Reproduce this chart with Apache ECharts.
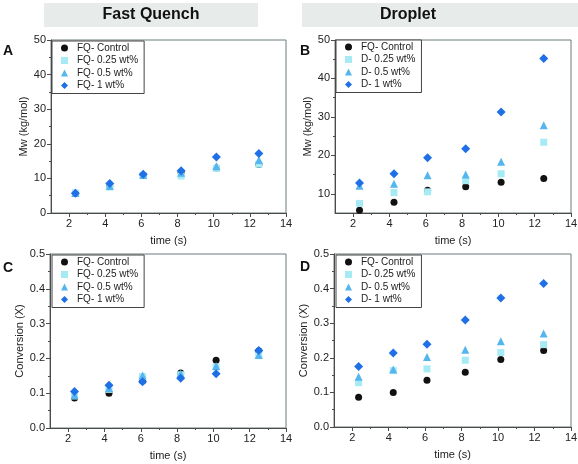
<!DOCTYPE html>
<html><head><meta charset="utf-8">
<script src="https://cdn.jsdelivr.net/npm/echarts@6/dist/echarts.min.js"></script>
<style>html,body{margin:0;padding:0;background:#fff}#c{width:578px;height:464px}</style>
</head><body><div id="c"></div>
<script>
// ---- data ----
var times = [2.35, 4.25, 6.1, 8.2, 10.15, 12.5];
var panelTitles = ['Fast Quench', 'Droplet'];
var panelLetters = ['A', 'B', 'C', 'D'];
var fqNames = ['FQ- Control', 'FQ- 0.25 wt%', 'FQ- 0.5 wt%', 'FQ- 1 wt%'];
var dNames = ['FQ- Control', 'D- 0.25 wt%', 'D- 0.5 wt%', 'D- 1 wt%'];
// Mw (kg/mol)
var mwControl = [5.7, 7.8, 10.9, 11.8, 13.0, 14.0];
var mwFQ025 = [5.8, 7.5, 10.8, 10.7, 12.9, 14.1];
var mwFQ05 = [5.8, 7.8, 11.0, 11.6, 13.5, 15.3];
var mwFQ1 = [5.7, 8.5, 11.2, 12.2, 16.2, 17.2];
var mwD025 = [7.5, 10.3, 10.5, 13.4, 15.2, 23.4];
var mwD05 = [12.1, 12.6, 14.8, 15.0, 18.3, 27.8];
var mwD1 = [12.8, 15.2, 19.4, 21.7, 31.3, 45.2];
// Conversion (X)
var cvControl = [0.086, 0.100, 0.135, 0.158, 0.195, 0.221];
var cvFQ025 = [0.092, 0.111, 0.148, 0.153, 0.175, 0.208];
var cvFQ05 = [0.095, 0.115, 0.151, 0.156, 0.178, 0.210];
var cvFQ1 = [0.105, 0.123, 0.133, 0.143, 0.156, 0.223];
var cvD025 = [0.128, 0.163, 0.168, 0.193, 0.215, 0.238];
var cvD05 = [0.145, 0.166, 0.202, 0.223, 0.248, 0.270];
var cvD1 = [0.175, 0.214, 0.239, 0.309, 0.373, 0.415];
// ticks
var xMajor = [2, 4, 6, 8, 10, 12, 14];
var xMinor = [3, 5, 7, 9, 11, 13];
var mwMajorA = [0, 10, 20, 30, 40, 50];
var mwMinorA = [5, 15, 25, 35, 45];
var mwMajorB = [10, 20, 30, 40, 50];
var mwMinorB = [15, 25, 35, 45];
var cvMajor = [0, 0.1, 0.2, 0.3, 0.4, 0.5];
var cvMinor = [0.05, 0.15, 0.25, 0.35, 0.45];

// ---- style ----
var colors = ['#111111', '#a6eaf3', '#55b5ee', '#1f6fe6'];
var symbols = ['circle', 'rect', 'triangle', 'diamond'];
var sizes = [7, 7, 8, 9];
var grids = [
  {left: 51, top: 40, width: 235, height: 173},
  {left: 335, top: 40, width: 236, height: 173},
  {left: 50, top: 254, width: 236, height: 174},
  {left: 334, top: 254, width: 237, height: 173}
];
var yRanges = [[0, 50], [5, 50], [0, 0.5], [0, 0.5]];
var yMajors = [mwMajorA, mwMajorB, cvMajor, cvMajor];
var yMinors = [mwMinorA, mwMinorB, cvMinor, cvMinor];
var yNames = ['Mw (kg/mol)', 'Mw (kg/mol)', 'Conversion (X)', 'Conversion (X)'];
var yGaps = [18, 18, 20, 21];
var seriesSets = [
  [mwControl, mwFQ025, mwFQ05, mwFQ1],
  [mwControl, mwD025, mwD05, mwD1],
  [cvControl, cvFQ025, cvFQ05, cvFQ1],
  [cvControl, cvD025, cvD05, cvD1]
];
var nameSets = [fqNames, dNames, fqNames, dNames];
var legendPos = [[52, 41], [336, 40], [52, 255], [336, 255]];
var axisColor = '#4a4a4a';
var textColor = '#222';
var fontFam = 'Liberation Sans, Arial, sans-serif';

var option = {
  animation: false,
  backgroundColor: '#fff',
  grid: [], xAxis: [], yAxis: [], series: [], legend: [],
  graphic: []
};

for (var p = 0; p < 4; p++) {
  var g = grids[p];
  option.grid.push({left: g.left, top: g.top, width: g.width, height: g.height,
    show: true, borderColor: '#6d7a7e', borderWidth: 1, backgroundColor: '#fff',
    containLabel: false, outerBoundsMode: 'none'});
  var isCv = p >= 2;
  option.xAxis.push({type: 'value', gridIndex: p, min: 1, max: 14,
    name: 'time (s)', nameLocation: 'middle', nameGap: 22,
    nameTextStyle: {fontSize: 11, color: textColor, fontFamily: fontFam},
    axisLine: {show: true, lineStyle: {color: axisColor, width: 1}},
    axisTick: {show: true, inside: false, length: 4, customValues: xMajor, lineStyle: {color: axisColor}},
    axisLabel: {show: true, customValues: xMajor, fontSize: 11, color: textColor, margin: 5, fontFamily: fontFam},
    splitLine: {show: false}});
  option.xAxis.push({type: 'value', gridIndex: p, min: 1, max: 14, position: 'bottom',
    axisLine: {show: false},
    axisTick: {show: true, inside: false, length: 2, customValues: xMinor, lineStyle: {color: axisColor}},
    axisLabel: {show: false}, splitLine: {show: false}});
  var yr = yRanges[p];
  option.yAxis.push({type: 'value', gridIndex: p, min: yr[0], max: yr[1],
    name: yNames[p], nameLocation: 'middle', nameGap: yGaps[p],
    nameTextStyle: {fontSize: 11, color: textColor, fontFamily: fontFam},
    axisLine: {show: true, lineStyle: {color: axisColor, width: 1}},
    axisTick: {show: true, inside: false, length: 4, customValues: yMajors[p], lineStyle: {color: axisColor}},
    axisLabel: {show: true, customValues: yMajors[p], fontSize: 11, color: textColor, margin: 5, fontFamily: fontFam,
      formatter: isCv ? function (v) { return v.toFixed(1); } : function (v) { return String(v); }},
    splitLine: {show: false}});
  option.yAxis.push({type: 'value', gridIndex: p, min: yr[0], max: yr[1], position: 'left',
    axisLine: {show: false},
    axisTick: {show: true, inside: false, length: 2, customValues: yMinors[p], lineStyle: {color: axisColor}},
    axisLabel: {show: false}, splitLine: {show: false}});
  var names = nameSets[p];
  for (var s = 0; s < 4; s++) {
    var vals = seriesSets[p][s];
    var data = [];
    for (var i = 0; i < times.length; i++) data.push([times[i], vals[i]]);
    option.series.push({type: 'scatter', name: names[s], xAxisIndex: p * 2, yAxisIndex: p * 2,
      symbol: symbols[s], symbolSize: sizes[s], itemStyle: {color: colors[s], opacity: 1},
      data: data, z: 2 + s});
  }
  option.legend.push({orient: 'vertical', left: legendPos[p][0], top: legendPos[p][1],
    data: names.map(function (n, k) { return {name: n, icon: symbols[k]}; }),
    itemWidth: 7, itemHeight: 7, itemGap: 0.5, padding: [1, 6, 2, 9], symbolKeepAspect: true,
    borderColor: '#444', borderWidth: 1, backgroundColor: '#fff', selectedMode: false,
    textStyle: {fontSize: 10, color: textColor, lineHeight: 12, fontFamily: fontFam, padding: [0, 0, 0, 4]}});
}

option.graphic.push({type: 'rect', left: 44, top: 3, shape: {width: 214, height: 24}, style: {fill: '#e7ebe9'}, silent: true});
option.graphic.push({type: 'rect', left: 302, top: 3, shape: {width: 276, height: 24}, style: {fill: '#e7ebe9'}, silent: true});
option.graphic.push({type: 'text', x: 151, y: 15, style: {text: panelTitles[0], fill: '#111', font: 'bold 16px ' + fontFam, textAlign: 'center', textVerticalAlign: 'middle'}});
option.graphic.push({type: 'text', x: 408, y: 15, style: {text: panelTitles[1], fill: '#111', font: 'bold 16px ' + fontFam, textAlign: 'center', textVerticalAlign: 'middle'}});
var letterPos = [[8, 51], [305, 51], [8, 268], [305, 267]];
for (var L = 0; L < 4; L++) {
  option.graphic.push({type: 'text', x: letterPos[L][0], y: letterPos[L][1],
    style: {text: panelLetters[L], fill: '#111', font: 'bold 14px ' + fontFam, textAlign: 'center', textVerticalAlign: 'middle'}});
}

var chart = echarts.init(document.getElementById('c'), null, {renderer: 'canvas'});
chart.setOption(option);
</script>
</body></html>
